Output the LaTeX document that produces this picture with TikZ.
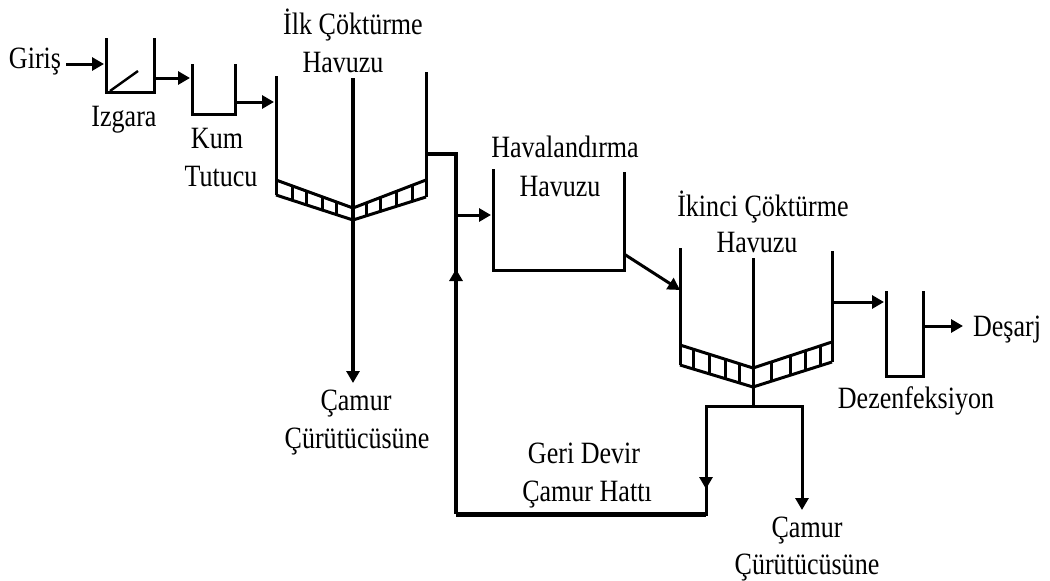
\documentclass[tikz,border=0pt]{standalone}
\usepackage{fontspec}
\setmainfont[FakeStretch=0.84]{Liberation Serif}
\usetikzlibrary{arrows.meta, calc}
\tikzset{
  wall/.style={line width=3pt},
  pipe/.style={line width=3pt, -{Triangle[length=12pt,width=13pt]}},
  plain/.style={line width=3pt},
  tick/.style={line width=3pt},
  lab/.style={font=\fontsize{31pt}{31pt}\selectfont, inner sep=0pt, anchor=base}
}

\begin{document}
\begin{tikzpicture}[x=1pt, y=-1pt]
    \useasboundingbox (0,0) rectangle (1050,581);
    % labels
    \foreach \name/\x/\y/\lab in {giris/35/68/Giriş, izgara/124/126/Izgara, kum/217/148/Kum, tutucu/221/186/Tutucu,
        ilka/353/34/İlk Çöktürme, ilkb/343/72/Havuzu, havaa/565/157/Havalandırma, havab/560/196/Havuzu,
        ikia/763/216/İkinci Çöktürme, ikib/757/252/Havuzu, dez/916/408/Dezenfeksiyon, desarj/1007/336/Deşarj,
        cam1/356/410/Çamur, cur1/357/448/Çürütücüsüne, geri/584/463/Geri Devir, hat/587/501/Çamur Hattı,
        cam2/807/537/Çamur, cur2/807/574/Çürütücüsüne} {
      \node[lab] (\name) at (\x,\y) {\lab};
    }
    % tanks
    \draw[wall] (106,38) -- (106,92) -- (154,92) -- (154,38);
    \draw[line width=2.4pt] (110,91) -- (138,71);
    \draw[wall] (192,64) -- (192,114) -- (235,114) -- (235,64);
    \draw[wall] (493,169) -- (493,270) -- (624,270) -- (624,172);
    \draw[wall] (886,291) -- (886,376) -- (923,376) -- (923,291);
    % settling tanks
    \draw[wall] (276,76) -- (276,195);
    \draw[wall] (426,72) -- (426,197);
    \draw[wall] (680,248) -- (680,365);
    \draw[wall] (832,251) -- (832,362);
    \coordinate (ilkUL) at (276,180);
    \coordinate (ilkUM) at (353,208);
    \coordinate (ilkUR) at (426,180);
    \coordinate (ilkLL) at (276,195);
    \coordinate (ilkLM) at (353,220);
    \coordinate (ilkLR) at (426,197);
    \coordinate (ikiUL) at (680,345);
    \coordinate (ikiUM) at (753,368);
    \coordinate (ikiUR) at (832,342);
    \coordinate (ikiLL) at (680,365);
    \coordinate (ikiLM) at (753,387);
    \coordinate (ikiLR) at (832,362);
    \foreach \tank in {ilk, iki} {
      \draw[tick] (\tank UL) -- (\tank UM) -- (\tank UR);
      \draw[tick] (\tank LL) -- (\tank LM) -- (\tank LR);
    }
    \foreach \f in {.22, .4, .6, .79}
      \draw[tick] ($(ilkUL)!\f!(ilkUM)$) -- ($(ilkLL)!\f!(ilkLM)$);
    \foreach \f in {.19, .37, .6, .81}
      \draw[tick] ($(ilkUM)!\f!(ilkUR)$) -- ($(ilkLM)!\f!(ilkLR)$);
    \foreach \f in {.18, .41, .62, .82}
      \draw[tick] ($(ikiUL)!\f!(ikiUM)$) -- ($(ikiLL)!\f!(ikiLM)$);
    \foreach \f in {.24, .47, .66, .85}
      \draw[tick] ($(ikiUM)!\f!(ikiUR)$) -- ($(ikiLM)!\f!(ikiLR)$);
    % line
    \foreach \name/\x/\y in {inA/66/64, inB/104/64, izA/154/78, izB/190/78, kumA/235/102, kumB/274/102,
        ilkTop/353/78, ilkEnd/353/383, ilkOut/426/154, knee/456/154, branch/456/215, havaIn/491/215,
        upTip/456/269, corner/456/514, rightC/706/514, downTip/706/489, fork/706/406,
        forkR/802/406, forkEnd/802/510, ikiTop/753/258, ikiMid/753/406,
        havaOut/624/254, ikiIn/680/290, ikiOut/832/302, dezIn/884/302, dezOut/923/326, dsj/963/326} {
      \coordinate (\name) at (\x,\y);
    }
    \draw[pipe] (inA) -- (inB);
    \draw[pipe] (izA) -- (izB);
    \draw[pipe] (kumA) -- (kumB);
    \draw[pipe, line width=4pt] (ilkTop) -- (ilkEnd);
    \draw[plain, line width=3.5pt] (ilkOut) -- (knee) -- (corner);
    \draw[pipe] (branch) -- (havaIn);
    \draw[pipe] (corner) -- (upTip);
    \draw[plain, line width=5pt] (corner) -- (rightC);
    \draw[plain, line cap=rect] (rightC) -- (fork) -- (forkR);
    \draw[pipe] (fork) -- (downTip);
    \draw[pipe] (forkR) -- (forkEnd);
    \draw[plain] (ikiTop) -- (ikiMid);
    \draw[pipe] (havaOut) -- (ikiIn);
    \draw[pipe] (ikiOut) -- (dezIn);
    \draw[pipe] (dezOut) -- (dsj);
  \end{tikzpicture}
\end{document}
